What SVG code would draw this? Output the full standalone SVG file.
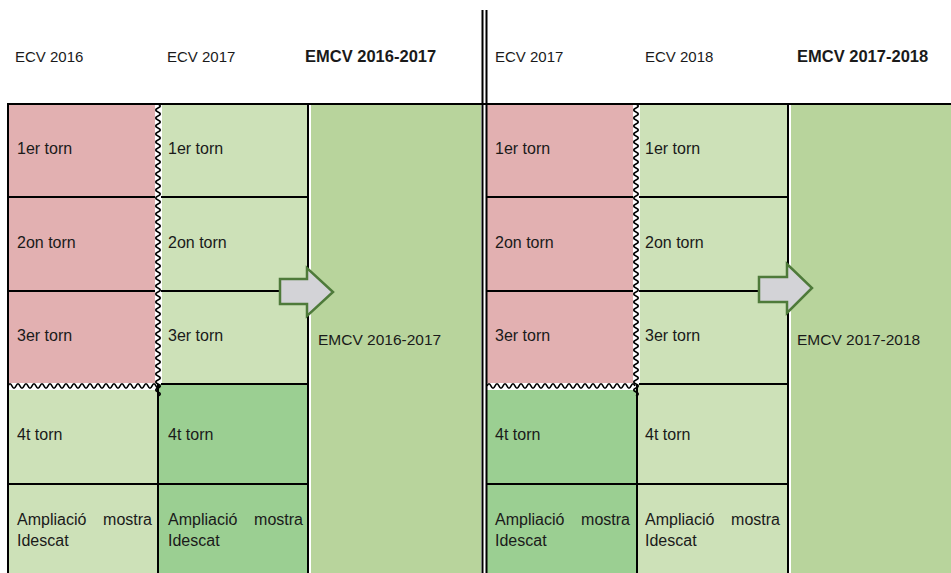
<svg xmlns="http://www.w3.org/2000/svg" width="951" height="573" viewBox="0 0 951 573">
<style>
.t{font-family:"Liberation Sans",Arial,sans-serif;font-size:16px;fill:#1a1a1a}
.h{font-size:15px}
.b{font-weight:bold;font-size:16.5px}
.e{font-size:15.5px}
.ln{stroke:#000;stroke-width:2;fill:none}
.wv{stroke:#000;stroke-width:1.7;fill:none}
.pk{fill:#e2b0b1}
.lg{fill:#cde1b8}
.dg{fill:#9bcf92}
.mg{fill:#b8d49c}
.ar{fill:#d3d3d7;stroke:#4e7a3a;stroke-width:2.5;stroke-linejoin:miter}
</style>
<rect width="951" height="573" fill="#fff"/>
<g id="headers">
<text class="t h" x="15" y="62">ECV 2016</text>
<text class="t h" x="167" y="62">ECV 2017</text>
<text class="t b" x="305" y="62">EMCV 2016-2017</text>
<text class="t h" x="495" y="62">ECV 2017</text>
<text class="t h" x="645" y="62">ECV 2018</text>
<text class="t b" x="797" y="62">EMCV 2017-2018</text>
</g>
<g id="left-panel">
<g id="l-c1-r1"><rect class="pk" x="9" y="105" width="146" height="92"/><text class="t" x="17" y="154">1er torn</text></g>
<g id="l-c1-r2"><rect class="pk" x="9" y="197" width="146" height="94"/><text class="t" x="17" y="248">2on torn</text></g>
<g id="l-c1-r3"><rect class="pk" x="9" y="291" width="146" height="92"/><text class="t" x="17" y="341">3er torn</text></g>
<g id="l-c1-r4"><rect class="lg" x="9" y="390" width="149" height="94"/><text class="t" x="17" y="440">4t torn</text></g>
<g id="l-c1-r5"><rect class="lg" x="9" y="484" width="149" height="89"/><text class="t" x="17" y="525">Ampliació</text><text class="t" x="152" y="525" text-anchor="end">mostra</text><text class="t" x="17" y="546">Idescat</text></g>
<g id="l-c2-r1"><rect class="lg" x="162" y="105" width="146" height="92"/><text class="t" x="168" y="154">1er torn</text></g>
<g id="l-c2-r2"><rect class="lg" x="162" y="197" width="146" height="94"/><text class="t" x="168" y="248">2on torn</text></g>
<g id="l-c2-r3"><rect class="lg" x="162" y="291" width="146" height="93"/><text class="t" x="168" y="341">3er torn</text></g>
<g id="l-c2-r4"><rect class="dg" x="158" y="384" width="150" height="100"/><text class="t" x="168" y="440">4t torn</text></g>
<g id="l-c2-r5"><rect class="dg" x="158" y="484" width="150" height="89"/><text class="t" x="168" y="525">Ampliació</text><text class="t" x="303" y="525" text-anchor="end">mostra</text><text class="t" x="168" y="546">Idescat</text></g>
<g id="l-emcv"><rect class="mg" x="311" y="105" width="170" height="468"/><text class="t e" x="318" y="345">EMCV 2016-2017</text></g>
</g>
<g id="right-panel">
<g id="r-c1-r1"><rect class="pk" x="487" y="105" width="146" height="92"/><text class="t" x="495" y="154">1er torn</text></g>
<g id="r-c1-r2"><rect class="pk" x="487" y="197" width="146" height="94"/><text class="t" x="495" y="248">2on torn</text></g>
<g id="r-c1-r3"><rect class="pk" x="487" y="291" width="146" height="92"/><text class="t" x="495" y="341">3er torn</text></g>
<g id="r-c1-r4"><rect class="dg" x="487" y="390" width="150" height="94"/><text class="t" x="495" y="440">4t torn</text></g>
<g id="r-c1-r5"><rect class="dg" x="487" y="484" width="150" height="89"/><text class="t" x="495" y="525">Ampliació</text><text class="t" x="630" y="525" text-anchor="end">mostra</text><text class="t" x="495" y="546">Idescat</text></g>
<g id="r-c2-r1"><rect class="lg" x="640" y="105" width="148" height="92"/><text class="t" x="645" y="154">1er torn</text></g>
<g id="r-c2-r2"><rect class="lg" x="640" y="197" width="148" height="94"/><text class="t" x="645" y="248">2on torn</text></g>
<g id="r-c2-r3"><rect class="lg" x="640" y="291" width="148" height="93"/><text class="t" x="645" y="341">3er torn</text></g>
<g id="r-c2-r4"><rect class="lg" x="637" y="384" width="151" height="100"/><text class="t" x="645" y="440">4t torn</text></g>
<g id="r-c2-r5"><rect class="lg" x="637" y="484" width="151" height="89"/><text class="t" x="645" y="525">Ampliació</text><text class="t" x="780" y="525" text-anchor="end">mostra</text><text class="t" x="645" y="546">Idescat</text></g>
<g id="r-emcv"><rect class="mg" x="791" y="105" width="160" height="468"/><text class="t e" x="797" y="345">EMCV 2017-2018</text></g>
</g>
<g id="connectors">
<path class="ln" d="M7,104H951"/>
<path class="ln" d="M8,104V573M308,104V573M158,384V573M788,104V573M637,384V573"/>
<path class="ln" d="M482.5,10V573M486.5,10V573"/>
<path class="ln" d="M8,197H155M8,291H155M161,197H308M161,291H308M161,384H308M8,484H308"/>
<path class="ln" d="M487,197H633M487,291H633M639,197H788M639,291H788M639,384H788M487,484H788"/>
<path class="wv" d="M158,104q4.5,2 0,4t0,4t0,4t0,4t0,4t0,4t0,4t0,4t0,4t0,4t0,4t0,4t0,4t0,4t0,4t0,4t0,4t0,4t0,4t0,4t0,4t0,4t0,4t0,4t0,4t0,4t0,4t0,4t0,4t0,4t0,4t0,4t0,4t0,4t0,4t0,4t0,4t0,4t0,4t0,4t0,4t0,4t0,4t0,4t0,4t0,4t0,4t0,4t0,4t0,4t0,4t0,4t0,4t0,4t0,4t0,4t0,4t0,4t0,4t0,4t0,4t0,4t0,4t0,4t0,4t0,4t0,4t0,4t0,4t0,4t0,4t0,4t0,4"/>
<path class="wv" d="M8,386q2,-4.5 4,0t4,0t4,0t4,0t4,0t4,0t4,0t4,0t4,0t4,0t4,0t4,0t4,0t4,0t4,0t4,0t4,0t4,0t4,0t4,0t4,0t4,0t4,0t4,0t4,0t4,0t4,0t4,0t4,0t4,0t4,0t4,0t4,0t4,0t4,0t4,0t4,0t4,0"/>
<path class="wv" d="M636,104q4.5,2 0,4t0,4t0,4t0,4t0,4t0,4t0,4t0,4t0,4t0,4t0,4t0,4t0,4t0,4t0,4t0,4t0,4t0,4t0,4t0,4t0,4t0,4t0,4t0,4t0,4t0,4t0,4t0,4t0,4t0,4t0,4t0,4t0,4t0,4t0,4t0,4t0,4t0,4t0,4t0,4t0,4t0,4t0,4t0,4t0,4t0,4t0,4t0,4t0,4t0,4t0,4t0,4t0,4t0,4t0,4t0,4t0,4t0,4t0,4t0,4t0,4t0,4t0,4t0,4t0,4t0,4t0,4t0,4t0,4t0,4t0,4t0,4t0,4"/>
<path class="wv" d="M487,386q2,-4.5 4,0t4,0t4,0t4,0t4,0t4,0t4,0t4,0t4,0t4,0t4,0t4,0t4,0t4,0t4,0t4,0t4,0t4,0t4,0t4,0t4,0t4,0t4,0t4,0t4,0t4,0t4,0t4,0t4,0t4,0t4,0t4,0t4,0t4,0t4,0t4,0t4,0"/>
<polygon id="arrow-left" class="ar" points="280,279 307,279 307,268 333,292 307,316 307,304 280,304"/>
<polygon id="arrow-right" class="ar" points="759,277 787,277 787,264 812,288 787,313 787,302 759,302"/>
</g>
</svg>
